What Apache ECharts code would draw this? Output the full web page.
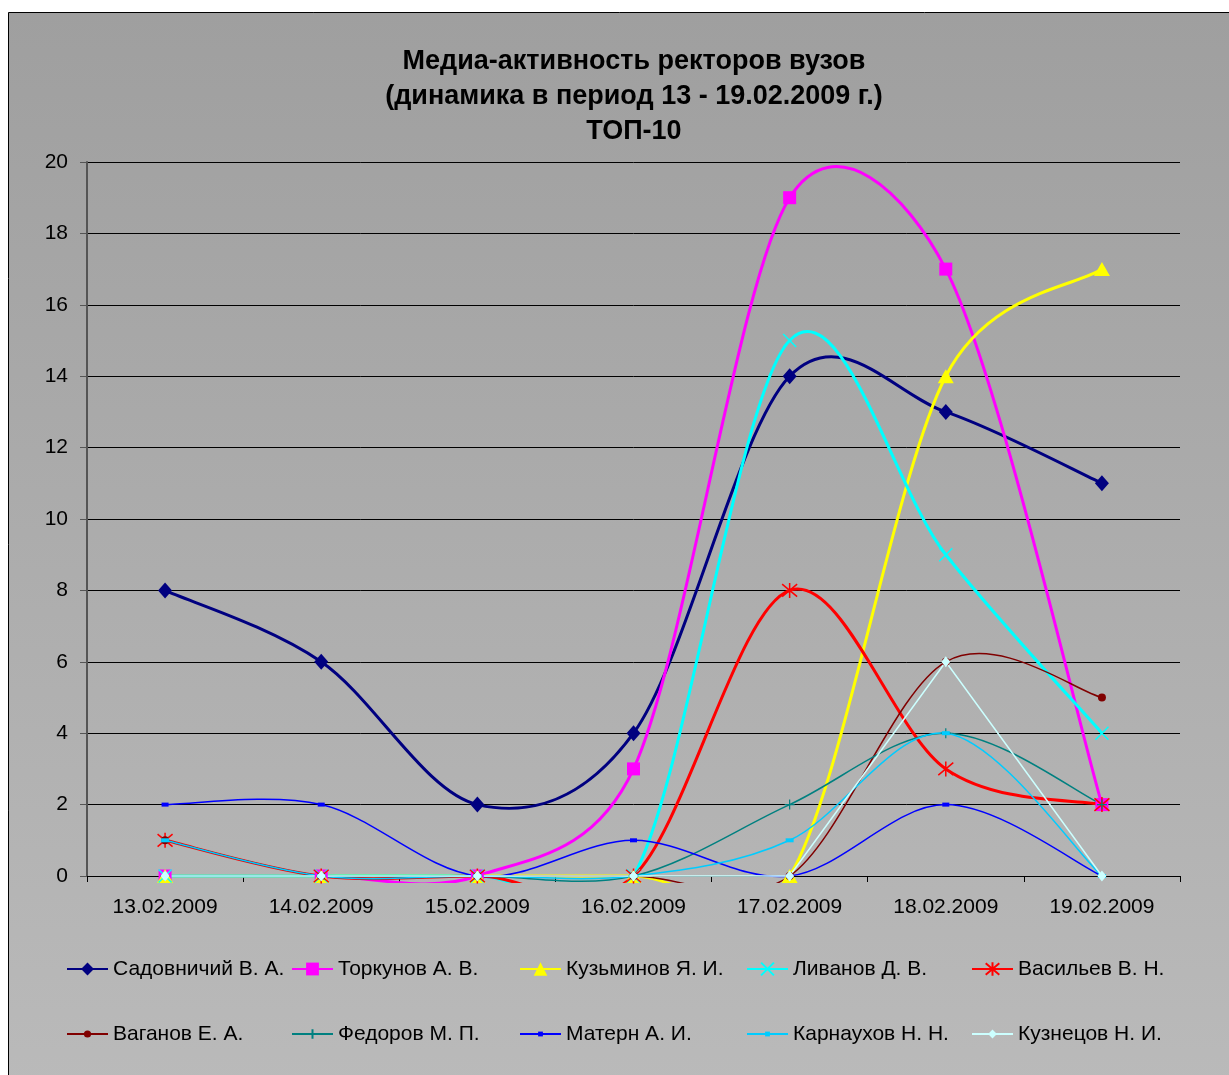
<!DOCTYPE html>
<html>
<head>
<meta charset="utf-8">
<script src="https://cdn.jsdelivr.net/npm/echarts@6/dist/echarts.min.js"></script>
<style>
html,body{margin:0;padding:0;background:#fff;}
#chart{width:1229px;height:1075px;}
</style>
</head>
<body>
<div id="chart"></div>
<script>
var categories = ['13.02.2009','14.02.2009','15.02.2009','16.02.2009','17.02.2009','18.02.2009','19.02.2009'];
var yTicks = [0,2,4,6,8,10,12,14,16,18,20];
var titleLines = ['Медиа-активность ректоров вузов','(динамика в период 13 - 19.02.2009 г.)','ТОП-10'];

var seriesNames = ['Садовничий В. А.','Торкунов А. В.','Кузьминов Я. И.','Ливанов Д. В.','Васильев В. Н.',
                   'Ваганов Е. А.','Федоров М. П.','Матерн А. И.','Карнаухов Н. Н.','Кузнецов Н. И.'];
var sadovnichy = [8,6,2,4,14,13,11];
var torkunov   = [0,0,0,3,19,17,2];
var kuzminov   = [0,0,0,0,0,14,17];
var livanov    = [0,0,0,0,15,9,4];
var vasiliev   = [1,0,0,0,8,3,2];
var vaganov    = [1,0,0,0,0,6,5];
var fedorov    = [0,0,0,0,2,4,2];
var matern     = [2,2,0,1,0,2,0];
var karnaukhov = [1,0,0,0,1,4,0];
var kuznetsov  = [0,0,0,0,0,6,0];

var values = [sadovnichy,torkunov,kuzminov,livanov,vasiliev,vaganov,fedorov,matern,karnaukhov,kuznetsov];

var styles = [
  {color:'#000080', width:3,   symbol:'diamond', size:[14,16], smooth:true, lh:16},
  {color:'#ff00ff', width:3,   symbol:'rect', size:13, smooth:true, lh:16},
  {color:'#ffff00', width:3,   symbol:'triangle', size:[16,14], smooth:true, lh:17},
  {color:'#00ffff', width:3,   symbol:'path://M0,0L10,10M10,0L0,10', size:13, stroke:1.5, smooth:true, lh:16},
  {color:'#ff0000', width:3,   symbol:'path://M0,0L10,10M10,0L0,10M5,-1L5,11', size:15, stroke:1.5, smooth:true, lh:17},
  {color:'#800000', width:1.5, symbol:'circle', size:8, smooth:true, lh:9},
  {color:'#008080', width:1.5, symbol:'path://M5,0L5,10M0,5L10,5', size:10, stroke:1.2, smooth:true, lh:12},
  {color:'#0000ff', width:1.5, symbol:'rect', size:[7,4], smooth:true, lh:6},
  {color:'#00ccff', width:1.5, symbol:'rect', size:[8,4], smooth:true, lh:6},
  {color:'#ccffff', width:1.5, symbol:'diamond', size:[9,11], smooth:false, lh:11}
];

var legendLeft = [66,291,519,746,971];
var legendCenterY = [969,1034];
var FONT = '"Liberation Sans", Arial, sans-serif';

// Excel-like smoothing: Bezier control points = P +/- (next - prev)/6, capped at half segment length
function smoothPath(pts) {
  var n = pts.length;
  function dist(a,b){ return Math.hypot(b[0]-a[0], b[1]-a[1]); }
  var d = 'M' + pts[0][0] + ' ' + pts[0][1];
  for (var k = 0; k < n - 1; k++) {
    var p0 = pts[Math.max(k-1,0)], p1 = pts[k], p2 = pts[k+1], p3 = pts[Math.min(k+2,n-1)];
    var d12 = dist(p1,p2), d02 = dist(p0,p2), d13 = dist(p1,p3);
    var f1 = 1/6, f2 = 1/6;
    if (d02 * f1 > d12 / 2 && d02 > 0) f1 = d12 / (2 * d02);
    if (d13 * f2 > d12 / 2 && d13 > 0) f2 = d12 / (2 * d13);
    var c1 = [p1[0] + (p2[0]-p0[0])*f1, p1[1] + (p2[1]-p0[1])*f1];
    var c2 = [p2[0] - (p3[0]-p1[0])*f2, p2[1] - (p3[1]-p1[1])*f2];
    d += ' C' + c1[0] + ' ' + c1[1] + ' ' + c2[0] + ' ' + c2[1] + ' ' + p2[0] + ' ' + p2[1];
  }
  return d;
}

var series = [];
seriesNames.forEach(function(n,i){
  var s = styles[i];
  var item = {color:s.color};
  if (s.stroke) { item.borderColor = s.color; item.borderWidth = s.stroke; }
  series.push({
    name:n, type:'line', data:values[i],
    smooth:false,
    symbol:s.symbol, symbolSize:s.size, showAllSymbol:true,
    clip:false,
    lineStyle:{color:s.color, width:s.width, opacity: s.smooth ? 0 : 1},
    itemStyle:item,
    emphasis:{disabled:true},
    z: 3
  });
  if (s.smooth) {
    var arr = values[i];
    series.push({
      type:'custom', silent:true, clip:false, z:2,
      data: arr.map(function(v,k){ return [k, v]; }),
      encode:{x:0, y:1},
      renderItem: function(params, api){
        if (params.dataIndex !== 0) return null;
        var pts = arr.map(function(v,k){ return api.coord([k, v]); });
        var bottom = api.coord([0, 0])[1] + 7;
        var top = api.coord([0, 20])[1] - 60;
        return {
          type:'path',
          shape:{pathData: smoothPath(pts)},
          style:{stroke:s.color, lineWidth:s.width, fill:'none', lineJoin:'round'},
          clipPath:{type:'rect', shape:{x:0, y:top, width:1229, height:bottom-top}}
        };
      }
    });
  }
});

var legends = seriesNames.map(function(n,i){
  var h = styles[i].lh;
  var row = Math.floor(i/5);
  return {
    data:[n],
    left: legendLeft[i%5],
    top: legendCenterY[row] - 12,
    padding:0,
    itemWidth:41, itemHeight:h, itemGap:6,
    lineStyle:{opacity:1},
    textStyle:{fontFamily:FONT, fontSize:21, color:'#000', lineHeight:24, height:24},
    selectedMode:false
  };
});

var graphics = [{
  type:'rect', z:-10, silent:true,
  shape:{x:8.5, y:12.5, width:1240, height:1080},
  style:{
    fill:{type:'linear', x:0, y:0, x2:0, y2:1, colorStops:[{offset:0,color:'#9f9f9f'},{offset:1,color:'#bababa'}]},
    stroke:'#000', lineWidth:1
  }
}];
var titleY = [62,97,132];
titleLines.forEach(function(t,i){
  graphics.push({
    type:'text', z:10, silent:true, x:634, y:titleY[i],
    style:{text:t, textAlign:'center', textVerticalAlign:'middle', fill:'#000',
      font:'bold 27px "Liberation Sans", Arial, sans-serif'}
  });
});

var chart = echarts.init(document.getElementById('chart'), null, {renderer:'canvas'});
chart.setOption({
  animation:false,
  backgroundColor:'#ffffff',
  graphic: graphics,
  legend: legends,
  grid:{left:87, top:162, width:1093, height:714, containLabel:false},
  xAxis:{
    type:'category', data:categories, boundaryGap:true,
    axisLine:{lineStyle:{color:'#000', width:1}},
    axisTick:{show:true, length:6, lineStyle:{color:'#000'}},
    axisLabel:{fontFamily:FONT, fontSize:21, color:'#000', margin:21},
    splitLine:{show:false}
  },
  yAxis:{
    type:'value', min:yTicks[0], max:yTicks[yTicks.length-1], interval:2,
    axisLine:{show:true, lineStyle:{color:'#555', width:2}},
    axisTick:{show:true, length:7, lineStyle:{color:'#555'}},
    axisLabel:{fontFamily:FONT, fontSize:21, color:'#000', margin:19},
    splitLine:{show:true, lineStyle:{color:'#000', width:1}}
  },
  series: series
});
</script>
</body>
</html>
